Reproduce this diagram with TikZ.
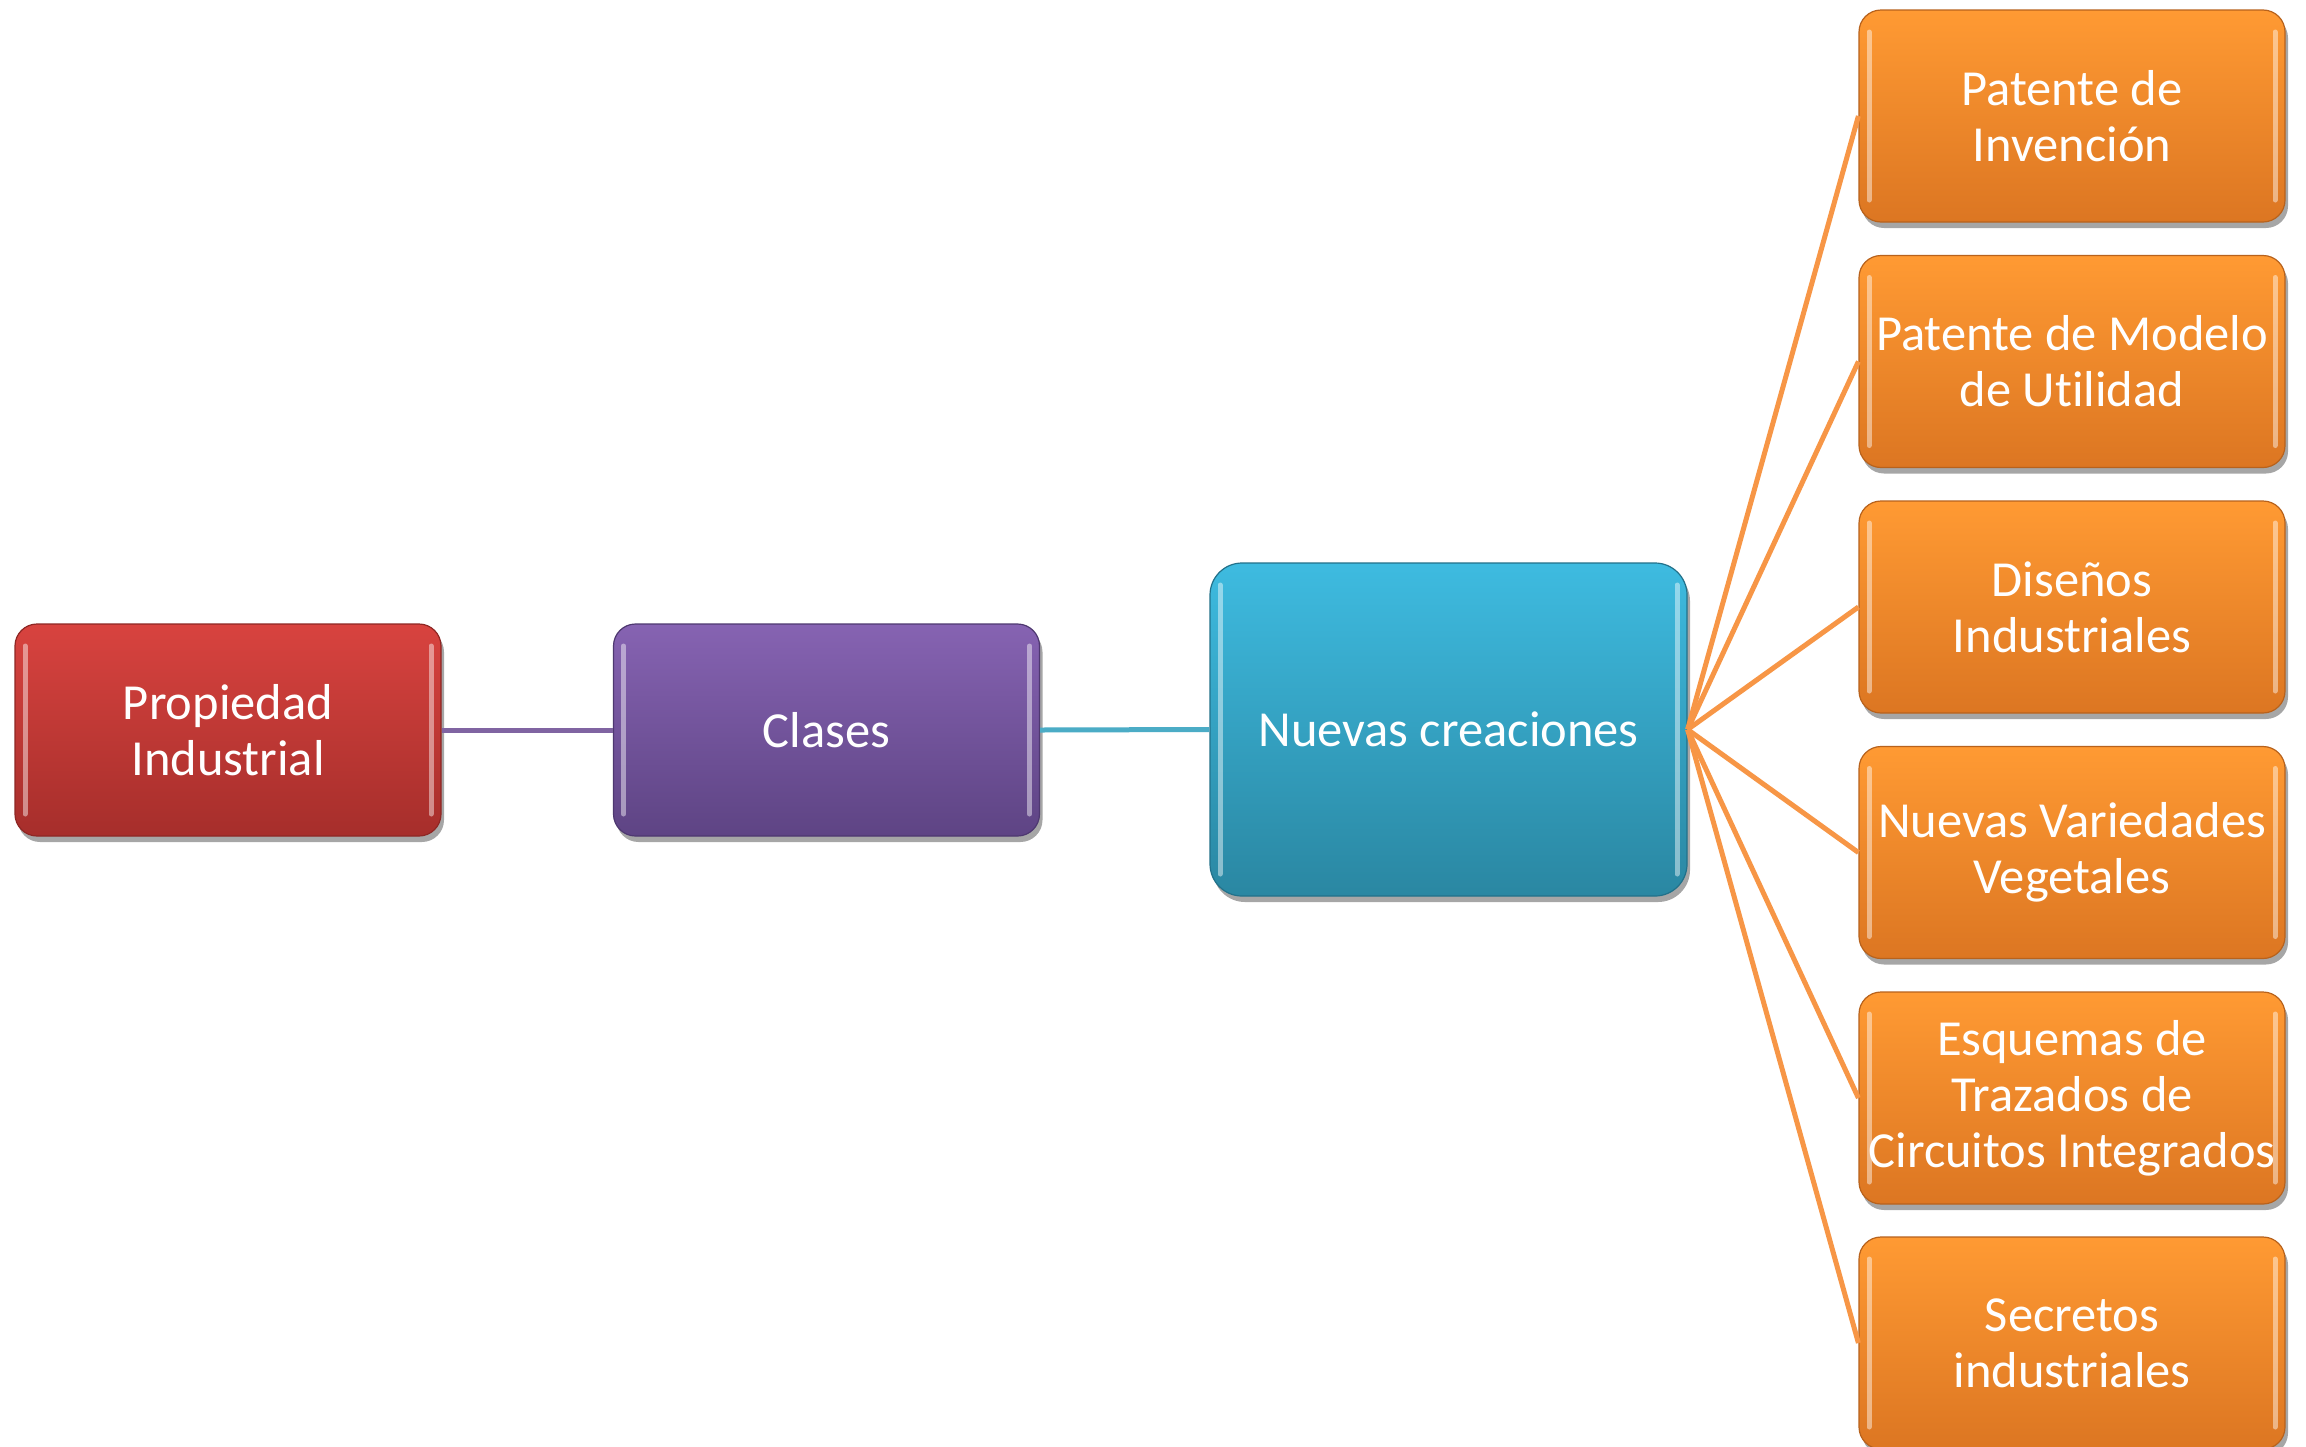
\documentclass[tikz,border=0pt]{standalone}
\usepackage{fontspec}
\setmainfont{Carlito}[Ligatures={NoCommon}]
\usetikzlibrary{shadows}
\definecolor{redT}{HTML}{D8433F}
\definecolor{redB}{HTML}{A62E2B}
\definecolor{redE}{HTML}{8E2724}
\definecolor{purT}{HTML}{8663B2}
\definecolor{purB}{HTML}{5E4484}
\definecolor{purE}{HTML}{4E3870}
\definecolor{cyaT}{HTML}{3EBBE0}
\definecolor{cyaB}{HTML}{2A87A2}
\definecolor{cyaE}{HTML}{22718A}
\definecolor{oraT}{HTML}{FF9A33}
\definecolor{oraB}{HTML}{DC7622}
\definecolor{oraE}{HTML}{B8621C}
\definecolor{purLine}{HTML}{8064A2}
\definecolor{cyaLine}{HTML}{4BACC6}
\definecolor{oraLine}{HTML}{F79646}
\tikzset{
  box/.style={rounded corners=22pt, align=center, text=white, inner sep=0pt,
    font=\fontsize{50.5}{56}\selectfont, line width=1.2pt,
    drop shadow={shadow xshift=3pt, shadow yshift=-6pt, opacity=0.35, fill=black},
    path picture={
      \draw[white, opacity=0.45, line width=5pt, line cap=round]
        ([xshift=10pt,yshift=-22pt]path picture bounding box.north west) --
        ([xshift=10pt,yshift=22pt]path picture bounding box.south west);
      \draw[white, opacity=0.45, line width=5pt, line cap=round]
        ([xshift=-10pt,yshift=-22pt]path picture bounding box.north east) --
        ([xshift=-10pt,yshift=22pt]path picture bounding box.south east);
    }},
  smallbox/.style={box, minimum width=426pt, minimum height=212pt},
  redbox/.style={smallbox, top color=redT, bottom color=redB, draw=redE},
  purbox/.style={smallbox, top color=purT, bottom color=purB, draw=purE},
  cyabox/.style={box, rounded corners=32pt, minimum width=477pt, minimum height=333pt,
    top color=cyaT, bottom color=cyaB, draw=cyaE},
  orabox/.style={smallbox, top color=oraT, bottom color=oraB, draw=oraE},
  link/.style={line width=5pt}
}
\begin{document}
\begin{tikzpicture}[x=1pt, y=-1pt]
\useasboundingbox (0,0) rectangle (2306,1446);
\fill[white] (0,0) rectangle (2306,1446);

\node[redbox] (prop) at (228,730) {Propiedad\\Industrial};
\node[purbox] (clases) at (826.5,730) {Clases};
\node[cyabox] (nuevas) at (1448.5,729.5) {Nuevas creaciones};

\node[orabox] (o1) at (2072,116) {Patente de\\Invención};
\node[orabox] (o2) at (2072,361.5) {Patente de Modelo\\de Utilidad};
\node[orabox] (o3) at (2072,607) {Diseños\\Industriales};
\node[orabox] (o4) at (2072,852.5) {Nuevas Variedades\\Vegetales};
\node[orabox] (o5) at (2072,1098) {Esquemas de\\Trazados de\\Circuitos Integrados};
\node[orabox] (o6) at (2072,1343) {Secretos\\industriales};

\draw[link, purLine] (prop.east) -- (clases.west);
\draw[link, cyaLine] (clases.east) -- (nuevas.west);
\foreach \o in {o1,o2,o3,o4,o5,o6}
  \draw[link, oraLine] (nuevas.east) -- (\o.west);
\end{tikzpicture}
\end{document}
